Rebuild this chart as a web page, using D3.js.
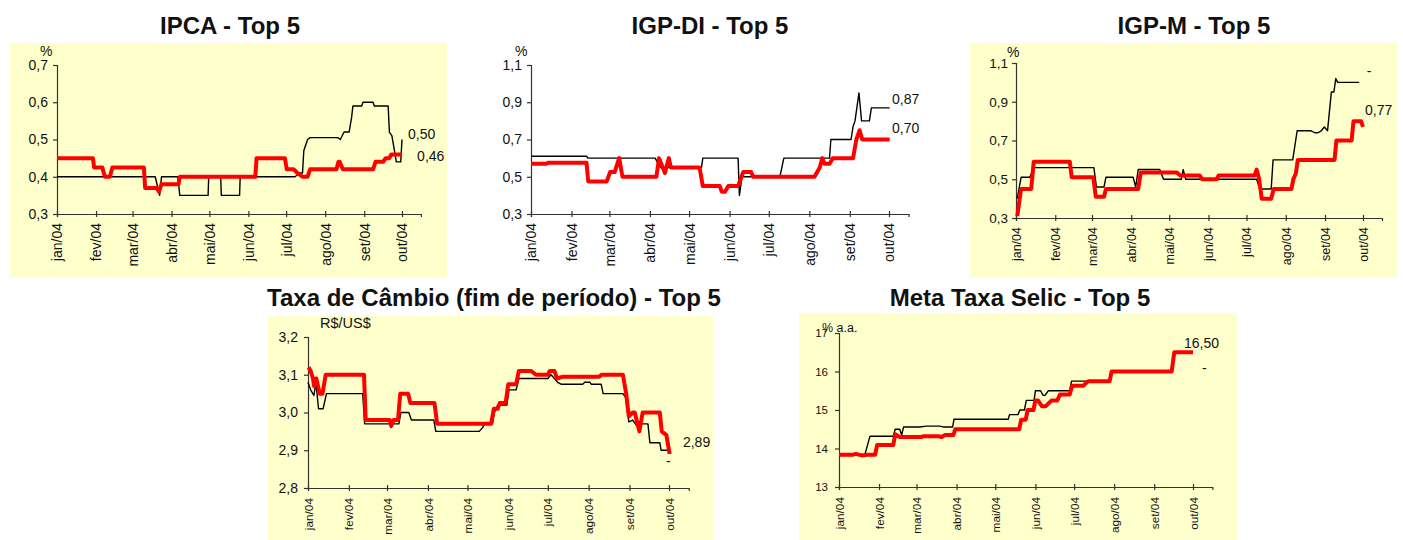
<!DOCTYPE html>
<html>
<head>
<meta charset="utf-8">
<title>Top 5 - expectativas 2004</title>
<script src="https://d3js.org/d3.v7.min.js"></script>
<style>
body { margin: 0; background: #fff; }
svg text { font-family: Arial, "Liberation Sans", sans-serif; fill: #111; }
.title { font-weight: bold; font-size: 24px; text-anchor: middle; }
</style>
</head>
<body>
<div id="wrapper"></div>
<script>
// x values are days counted from 01/jan/2004
var monthLabels = ["jan/04","fev/04","mar/04","abr/04","mai/04","jun/04","jul/04","ago/04","set/04","out/04"];

var ipcaTicks = [0.3, 0.4, 0.5, 0.6, 0.7];
var ipcaBlack = [[0,0.40],[78,0.40],[81.5,0.35],[83,0.40],[96,0.40],[97.5,0.35],[120,0.35],[120.5,0.40],[130,0.40],[130.5,0.35],[145,0.35],[145.5,0.40],[189,0.40],[193,0.41],[195,0.41],[196,0.47],[199,0.50],[201,0.505],[223,0.505],[225,0.50],[228,0.52],[232,0.52],[234,0.56],[235,0.59],[242,0.59],[243,0.60],[251,0.60],[252,0.59],[263,0.59],[264,0.52],[266,0.51],[268,0.47],[269.5,0.44],[273,0.44],[274,0.50]];
var ipcaRed = [[0,0.45],[28.5,0.45],[29.5,0.425],[36,0.425],[38,0.40],[42,0.40],[44,0.425],[69,0.425],[70,0.37],[79,0.37],[81,0.36],[83,0.38],[96.5,0.38],[97.5,0.40],[157.5,0.40],[158.5,0.45],[181,0.45],[182.5,0.42],[188,0.42],[191,0.41],[195,0.40],[199,0.40],[201,0.42],[222,0.42],[223.5,0.44],[224.5,0.44],[227,0.42],[251,0.42],[253,0.44],[259,0.44],[261,0.45],[264,0.45],[265.5,0.46],[274,0.46]];
var ipcaEnd = ["0,50", "0,46"];

var igpdiTicks = [0.3, 0.5, 0.7, 0.9, 1.1];
var igpdiBlack = [[0,0.61],[42.5,0.61],[43.5,0.60],[95,0.60],[99,0.55],[130.5,0.55],[131.5,0.60],[158.5,0.60],[159.5,0.40],[161.5,0.50],[190.5,0.50],[193.5,0.60],[228.5,0.60],[229.5,0.70],[245,0.70],[246.5,0.77],[248,0.80],[251,0.95],[253,0.80],[259,0.80],[260.5,0.87],[274.5,0.87]];
var igpdiRed = [[0,0.57],[12,0.57],[13,0.575],[42.5,0.575],[43.8,0.475],[58,0.475],[60.5,0.525],[64,0.525],[67.5,0.60],[70,0.50],[96,0.50],[98,0.60],[102.5,0.52],[105.5,0.60],[107,0.55],[129,0.55],[131.5,0.45],[144.5,0.45],[146,0.42],[148.5,0.42],[151,0.45],[158.5,0.45],[161,0.50],[162.5,0.525],[168.5,0.525],[170,0.50],[217,0.50],[221,0.55],[223,0.60],[224.5,0.57],[228.5,0.57],[231,0.60],[246.5,0.60],[249,0.70],[251.5,0.75],[253.5,0.70],[274.5,0.70]];
var igpdiEnd = ["0,87", "0,70"];

var igpmTicks = [0.3, 0.5, 0.7, 0.9, 1.1];
var igpmBlack = [[1,0.40],[4,0.51],[11,0.51],[14,0.56],[61.5,0.56],[63.5,0.46],[69.5,0.46],[71,0.51],[92.5,0.51],[94.5,0.46],[96.5,0.55],[113.5,0.55],[116.5,0.50],[130.5,0.50],[132,0.55],[134,0.50],[190,0.50],[192.5,0.45],[201.5,0.45],[203,0.60],[218.5,0.60],[222,0.75],[233,0.75],[236,0.74],[238.5,0.74],[241,0.75],[243.5,0.77],[246,0.75],[249,0.95],[251,0.95],[252.5,1.02],[254,1.00],[271,1.00]];
var igpmRed = [[1,0.31],[4,0.45],[12,0.45],[14,0.59],[42.5,0.59],[44,0.51],[61,0.51],[63,0.41],[69.5,0.41],[71,0.45],[96.5,0.45],[98.5,0.535],[127,0.535],[129.5,0.52],[145,0.52],[147,0.50],[158.5,0.50],[160,0.52],[188.5,0.52],[190,0.55],[192,0.50],[194,0.40],[201.5,0.40],[203.5,0.45],[217.5,0.45],[219,0.50],[221,0.53],[222.5,0.60],[251.5,0.60],[253,0.70],[265,0.70],[266.5,0.80],[272.5,0.80],[274,0.77]];
var igpmEnd = ["-", "0,77"];

var cambioTicks = [2.8, 2.9, 3.0, 3.1, 3.2];
var cambioBlack = [[0,3.08],[2,3.06],[4.5,3.045],[6,3.08],[8,3.01],[11.5,3.01],[14,3.05],[41.5,3.05],[43,2.97],[62,2.97],[63,2.96],[64.5,2.97],[69,2.97],[70.5,3.00],[76.5,3.00],[78.5,2.98],[95.5,2.98],[97,2.95],[130,2.95],[132.5,2.96],[134,2.97],[140,2.97],[141.5,3.00],[144,3.02],[151,3.02],[152.5,3.06],[158,3.06],[160,3.09],[182,3.09],[184.5,3.10],[187,3.09],[189.5,3.08],[192,3.075],[208.5,3.075],[210,3.08],[214,3.08],[215,3.075],[222.5,3.075],[224,3.05],[239,3.05],[241,3.04],[243.5,2.975],[246.5,2.98],[250.5,2.96],[253,2.97],[258,2.97],[259.5,2.92],[267,2.92],[268,2.90],[274,2.90]];
var cambioRed = [[0.5,3.12],[2,3.11],[3.8,3.09],[4.6,3.07],[6.3,3.09],[8.9,3.05],[11,3.05],[13.4,3.10],[42.5,3.10],[43.8,2.98],[62,2.98],[63.2,2.965],[65,2.98],[68.3,2.98],[70,3.05],[76,3.05],[77.7,3.025],[96,3.025],[98,2.97],[139,2.97],[141,3.01],[144,3.01],[145.5,3.025],[150,3.025],[152,3.075],[158,3.075],[160,3.11],[169.5,3.11],[173,3.10],[182,3.10],[183.5,3.11],[187,3.11],[189,3.09],[193.5,3.095],[221,3.095],[223,3.10],[239,3.10],[241.5,3.05],[243.5,2.99],[246.5,3.00],[248,3.00],[251.5,2.95],[254,3.00],[267,3.00],[268.5,2.95],[272,2.94],[274.5,2.89]];
var cambioEnd = ["2,89", "-"];

var selicTicks = [13, 14, 15, 16, 17];
var selicBlack = [[0,13.84],[20,13.84],[24,14.32],[42,14.32],[43.5,14.5],[47,14.5],[48.5,14.35],[50,14.56],[62.5,14.56],[67.5,14.58],[78,14.58],[80.5,14.56],[88,14.56],[89,14.76],[131,14.76],[132,14.88],[138.5,14.88],[140,15.0],[143.5,15.0],[145,15.25],[151,15.25],[152,15.5],[156,15.5],[158,15.38],[159.5,15.38],[162,15.5],[178.5,15.5],[180,15.75],[200,15.75]];
var selicRed = [[0,13.84],[11,13.84],[13,13.86],[17.5,13.82],[21.5,13.84],[28,13.84],[29.5,14.09],[42,14.09],[43.5,14.37],[47,14.3],[64,14.3],[65,14.32],[77,14.32],[79.5,14.3],[82,14.35],[88.5,14.35],[90,14.5],[139.5,14.5],[141,14.75],[144.5,14.75],[146,15.0],[150.5,15.0],[152,15.25],[154,15.25],[157,15.1],[160,15.1],[163,15.2],[164.5,15.25],[169,15.25],[171,15.4],[178.5,15.4],[180.5,15.63],[189,15.63],[193,15.75],[209.5,15.75],[211,16.0],[257.5,16.0],[259.5,16.5],[274,16.5]];
var selicEnd = ["16,50", "-"];

var width = 1403, height = 540;
var start = new Date(2004, 0, 1);
function toDate(d) { return d3.timeHour.offset(start, Math.round(d * 24)); }
var monthTicks = d3.timeMonth.range(start, new Date(2004, 9, 2));

// layout of each small chart (pixels)
var panels = [
  {title: "IPCA - Top 5", tx: 230, ty: 34, bg: [10, 43, 437, 235], x0: 57, xOut: 402, yTop: 65, yBot: 214,
   yDomain: [0.3, 0.7], ticks: ipcaTicks, fmt: ".1f", black: ipcaBlack, red: ipcaRed,
   unit: "%", unitPos: [-17, -9], unitFont: 14, xFont: 14, yFont: 14, labGap: 9, yGap: 9,
   end: ipcaEnd, endPos: [[278.8, 0.501], [286, 0.442]]},
  {title: "IGP-DI - Top 5", tx: 710, ty: 34, bg: null, x0: 531, xOut: 889, yTop: 65, yBot: 214,
   yDomain: [0.3, 1.1], ticks: igpdiTicks, fmt: ".1f", black: igpdiBlack, red: igpdiRed,
   unit: "%", unitPos: [-16, -9], unitFont: 14, xFont: 14, yFont: 14, labGap: 9, yGap: 9,
   end: igpdiEnd, endPos: [[276.3, 0.891], [276.3, 0.735]]},
  {title: "IGP-M - Top 5", tx: 1194, ty: 34, bg: [970, 43, 427, 235], x0: 1016, xOut: 1363, yTop: 63, yBot: 218,
   yDomain: [0.3, 1.1], ticks: igpmTicks, fmt: ".1f", black: igpmBlack, red: igpmRed,
   unit: "%", unitPos: [-9, -6], unitFont: 14, xFont: 12.5, yFont: 13.5, labGap: 9, yGap: 8,
   end: igpmEnd, endPos: [[277, 1.033], [275.6, 0.832]]},
  {title: "Taxa de Câmbio (fim de período) - Top 5", tx: 494, ty: 306, bg: [268, 316, 445, 224], x0: 308, xOut: 669, yTop: 337, yBot: 488,
   yDomain: [2.8, 3.2], ticks: cambioTicks, fmt: ".1f", black: cambioBlack, red: cambioRed,
   unit: "R$/US$", unitPos: [12, -9], unitFont: 14.5, xFont: 11.8, yFont: 14, labGap: 10, yGap: 10,
   end: cambioEnd, endPos: [[284.6, 2.909], [271.7, 2.858]]},
  {title: "Meta Taxa Selic - Top 5", tx: 1020, ty: 306, bg: [799, 313, 438, 227], x0: 839, xOut: 1193, yTop: 333, yBot: 487,
   yDomain: [13, 17], ticks: selicTicks, fmt: ".0f", black: selicBlack, red: selicRed,
   unit: "% a.a.", unitPos: [-17, -1], unitFont: 12.5, xFont: 11.8, yFont: 11.5, labGap: 10, yGap: 11,
   end: selicEnd, endPos: [[267, 16.61], [281, 15.96]]}
];

var svg = d3.select("#wrapper").append("svg")
  .attr("width", width).attr("height", height);

panels.forEach(function(p) {
  var g = svg.append("g");
  var pxDay = (p.xOut - p.x0) / 274;
  var x = d3.scaleTime()
    .domain([start, toDate(289)])
    .range([p.x0, p.x0 + 289 * pxDay]);
  var y = d3.scaleLinear().domain(p.yDomain).range([p.yBot, p.yTop]);

  if (p.bg) {
    g.append("rect")
      .attr("x", p.bg[0]).attr("y", p.bg[1])
      .attr("width", p.bg[2]).attr("height", p.bg[3])
      .attr("fill", "#FFFFCC");
  }

  g.append("text").attr("class", "title")
    .attr("x", p.tx).attr("y", p.ty).text(p.title);

  var comma = d3.format(p.fmt);
  var yAxis = g.append("g")
    .attr("transform", "translate(" + p.x0 + ",0)")
    .call(d3.axisLeft(y).tickValues(p.ticks).tickSizeOuter(0).tickSize(4)
      .tickFormat(function(d) { return comma(d).replace(".", ","); }));
  yAxis.selectAll("text").style("font-size", p.yFont + "px").attr("x", -p.yGap);

  var xAxis = g.append("g")
    .attr("transform", "translate(0," + p.yBot + ")")
    .call(d3.axisBottom(x).tickValues(monthTicks).tickSizeOuter(0).tickSize(3)
      .tickFormat(function(d, i) { return monthLabels[i]; }));
  xAxis.selectAll(".tick line").attr("y1", -3);
  xAxis.selectAll("text")
    .style("font-size", p.xFont + "px")
    .attr("text-anchor", "end")
    .attr("x", 0).attr("y", 0).attr("dy", "0.35em")
    .attr("transform", "translate(0," + p.labGap + ") rotate(-90)");

  g.selectAll(".domain, .tick line").attr("stroke", "#333").attr("stroke-width", 1.2);
  g.selectAll(".tick text").attr("fill", "#111");

  g.append("text")
    .attr("x", p.x0 + p.unitPos[0]).attr("y", p.yTop + p.unitPos[1])
    .style("font-size", p.unitFont + "px").text(p.unit);

  var line = d3.line()
    .x(function(d) { return x(toDate(d[0])); })
    .y(function(d) { return y(d[1]); });

  g.append("path").datum(p.black)
    .attr("d", line).attr("fill", "none")
    .attr("stroke", "#000").attr("stroke-width", 1.4)
    .attr("stroke-linejoin", "round");

  g.append("path").datum(p.red)
    .attr("d", line).attr("fill", "none")
    .attr("stroke", "#FF0000").attr("stroke-width", 4)
    .attr("stroke-linejoin", "round");

  p.end.forEach(function(t, i) {
    g.append("text")
      .attr("x", x(toDate(p.endPos[i][0])))
      .attr("y", y(p.endPos[i][1]))
      .style("font-size", "14px")
      .text(t);
  });
});
</script>
</body>
</html>
